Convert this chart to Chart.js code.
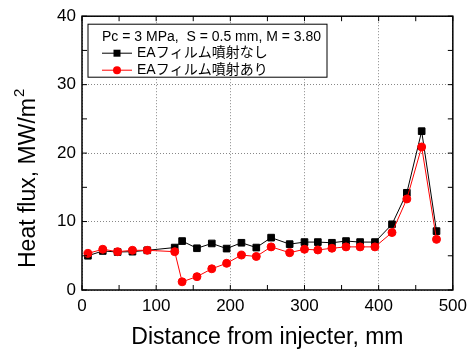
<!DOCTYPE html>
<html lang="ja">
<head>
    <meta charset="UTF-8">
    <title>Heat flux</title>
    <script src="https://cdn.jsdelivr.net/npm/chart.js"></script>
    <style>
        body { margin: 0; background: #fff; }
        canvas { display: block; }
    </style>
</head>
<body>
    <canvas id="grafico" width="473" height="351"></canvas>

    <script>
        // distancia desde o injetor (mm)
        const distance = [8, 28, 48, 68, 88, 125, 135, 155, 175, 195, 215, 235, 255, 280, 300, 318, 337, 356, 375, 395, 418, 438, 458, 478];
        // EAフィルム噴射なし
        const withoutFilm = [5.0, 5.7, 5.55, 5.6, 5.8, 6.2, 7.15, 6.1, 6.8, 6.05, 6.9, 6.2, 7.65, 6.7, 7.0, 7.0, 6.9, 7.15, 7.0, 7.0, 9.6, 14.2, 23.2, 8.6];
        // EAフィルム噴射あり
        const withFilm = [5.35, 5.95, 5.6, 5.8, 5.8, 5.6, 1.2, 1.95, 3.1, 3.9, 5.1, 4.9, 6.3, 5.45, 5.95, 5.85, 6.1, 6.3, 6.3, 6.3, 8.4, 13.3, 20.9, 7.4];
        const seriesNames = ["EAフィルム噴射なし", "EAフィルム噴射あり"];
        const legendTitle = "Pc = 3 MPa,  S = 0.5 mm, M = 3.80";
        const xTicks = [0, 100, 200, 300, 400, 500];
        const yTicks = [0, 10, 20, 30, 40];

        const fonte = "'Liberation Sans', Arial, 'Noto Sans CJK JP', sans-serif";

        function pontos(valores) {
            return distance.map((d, i) => ({ x: d, y: valores[i] }));
        }

        // moldura, ticks internos, titulo do eixo y e legenda
        const moldura = {
            id: "moldura",
            afterDraw(chart) {
                const ctx = chart.ctx;
                const a = chart.chartArea;
                const sx = chart.scales.x;
                const sy = chart.scales.y;
                ctx.save();
                ctx.strokeStyle = "#000";
                ctx.lineWidth = 1.5;
                ctx.strokeRect(a.left, a.top, a.right - a.left, a.bottom - a.top);
                ctx.lineWidth = 1;
                ctx.beginPath();
                for (let v = 0; v <= 500; v += 50) {
                    const px = sx.getPixelForValue(v);
                    ctx.moveTo(px, a.bottom); ctx.lineTo(px, a.bottom - 5);
                    ctx.moveTo(px, a.top); ctx.lineTo(px, a.top + 5);
                }
                for (let v = 0; v <= 40; v += 5) {
                    const py = sy.getPixelForValue(v);
                    ctx.moveTo(a.left, py); ctx.lineTo(a.left + 5, py);
                    ctx.moveTo(a.right, py); ctx.lineTo(a.right - 5, py);
                }
                ctx.stroke();

                // titulo do eixo y com expoente
                ctx.save();
                ctx.translate(35, 268);
                ctx.rotate(-Math.PI / 2);
                ctx.fillStyle = "#000";
                ctx.textBaseline = "alphabetic";
                ctx.font = "23px " + fonte;
                const base = "Heat flux, MW/m";
                ctx.fillText(base, 0, 0);
                const w = ctx.measureText(base).width;
                ctx.font = "15px " + fonte;
                ctx.fillText("2", w + 1, -11);
                ctx.restore();

                // legenda
                const bx = a.left + 6, by = a.top + 8, bw = 239, bh = 53;
                ctx.fillStyle = "#fff";
                ctx.fillRect(bx, by, bw, bh);
                ctx.strokeStyle = "#000";
                ctx.lineWidth = 1;
                ctx.strokeRect(bx, by, bw, bh);
                ctx.fillStyle = "#000";
                ctx.font = "14px " + fonte;
                ctx.textBaseline = "middle";
                ctx.fillText(legendTitle, bx + 14, by + 13);
                const linhas = [chart.data.datasets[1], chart.data.datasets[0]];
                linhas.forEach((ds, i) => {
                    const y = by + 29 + i * 17;
                    ctx.strokeStyle = ds.borderColor;
                    ctx.lineWidth = 1;
                    ctx.beginPath();
                    ctx.moveTo(bx + 14, y); ctx.lineTo(bx + 44, y);
                    ctx.stroke();
                    ctx.fillStyle = ds.backgroundColor;
                    ctx.beginPath();
                    if (ds.pointStyle === "rect") {
                        ctx.rect(bx + 25.5, y - 3.5, 7, 7);
                    } else {
                        ctx.arc(bx + 29, y, 4, 0, Math.PI * 2);
                    }
                    ctx.fill();
                    ctx.fillStyle = "#000";
                    ctx.fillText(ds.label, bx + 49, y);
                });
                ctx.restore();
            }
        };

        new Chart(document.getElementById("grafico"), {
            type: "line",
            data: {
                datasets: [
                    {
                        label: seriesNames[1],
                        data: pontos(withFilm),
                        borderColor: "#ff0000",
                        backgroundColor: "#ff0000",
                        borderWidth: 1,
                        pointStyle: "circle",
                        pointRadius: 4,
                        order: 0
                    },
                    {
                        label: seriesNames[0],
                        data: pontos(withoutFilm),
                        borderColor: "#000",
                        backgroundColor: "#000",
                        borderWidth: 1,
                        pointStyle: "rect",
                        pointRadius: 4.7,
                        order: 1
                    }
                ]
            },
            options: {
                responsive: false,
                animation: false,
                layout: { padding: { left: 0, right: 18, top: 16, bottom: 0 } },
                plugins: { legend: { display: false }, tooltip: { enabled: false } },
                scales: {
                    x: {
                        type: "linear",
                        min: 0,
                        max: 500,
                        afterBuildTicks: s => { s.ticks = xTicks.map(v => ({ value: v })); },
                        afterFit: s => { s.height = 61; },
                        grid: { color: "#888", drawTicks: false },
                        border: { display: false, dash: [1, 2] },
                        ticks: { color: "#000", padding: 6, font: { family: fonte, size: 17 } },
                        title: {
                            display: true,
                            text: "Distance from injecter, mm",
                            color: "#000",
                            padding: { top: 0, bottom: 0 },
                            font: { family: fonte, size: 23 }
                        }
                    },
                    y: {
                        min: 0,
                        max: 40,
                        afterBuildTicks: s => { s.ticks = yTicks.map(v => ({ value: v })); },
                        afterFit: s => { s.width = 82; },
                        grid: { color: "#888", drawTicks: false },
                        border: { display: false, dash: [1, 2] },
                        ticks: { color: "#000", padding: 6, font: { family: fonte, size: 17 } }
                    }
                }
            },
            plugins: [moldura]
        });
    </script>
</body>
</html>
